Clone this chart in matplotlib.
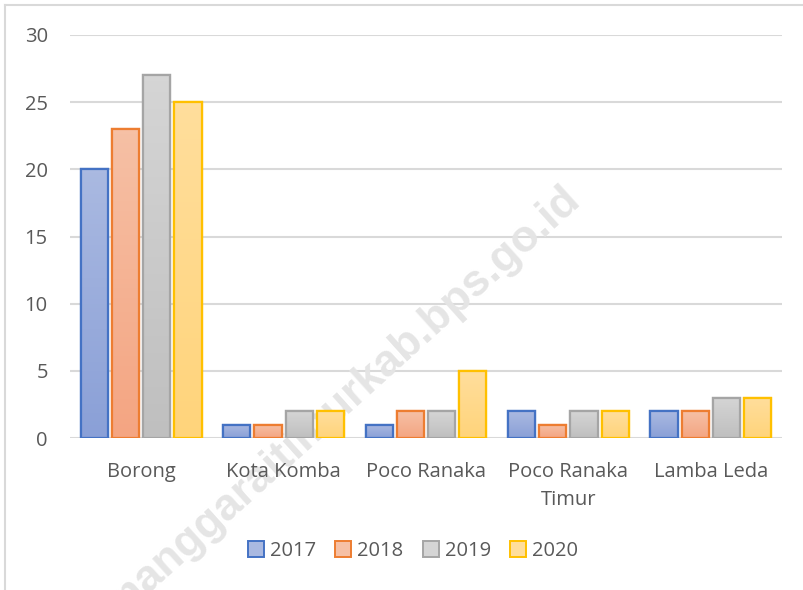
import numpy as np
import matplotlib.pyplot as plt
from matplotlib.colors import LinearSegmentedColormap
from matplotlib.lines import Line2D
from matplotlib.patches import Patch

# ---- Data ------------------------------------------------------------
CATEGORIES = ['Borong', 'Kota Komba', 'Poco Ranaka', 'Poco Ranaka\nTimur', 'Lamba Leda']
YEARS = ['2017', '2018', '2019', '2020']
V2017 = [20, 1, 1, 2, 2]
V2018 = [23, 1, 2, 1, 2]
V2019 = [27, 2, 2, 2, 3]
V2020 = [25, 2, 5, 2, 3]
YTICKS = [0, 5, 10, 15, 20, 25, 30]

# ---- Style -----------------------------------------------------------
# (top colour, bottom colour, edge colour) per series
STYLES = [
    ('#AAB9E1', '#8AA0D7', '#4472C4'),
    ('#F6C0A5', '#F4A582', '#ED7D31'),
    ('#D5D5D5', '#BFBFBF', '#A5A5A5'),
    ('#FFDE9C', '#FFD47B', '#FFC000'),
]
TEXT = '#595959'
GRID = '#D9D9D9'
FONT = 'Open Sans'
FS = 14.5

BAR_W = 0.19
STEP = 0.219

fig = plt.figure(figsize=(8.04, 5.90), dpi=100)
ax = fig.add_axes([70 / 804, 152 / 590, 712 / 804, 403 / 590])
ax.patch.set_visible(False)

x = np.arange(len(CATEGORIES))
series = [V2017, V2018, V2019, V2020]
for i, (vals, (top, bot, edge)) in enumerate(zip(series, STYLES)):
    offs = (i - 1.5) * STEP
    bars = ax.bar(x + offs, vals, BAR_W, color='white', edgecolor=edge,
                  linewidth=1.6, zorder=3)
    cmap = LinearSegmentedColormap.from_list(f's{i}', [bot, top])
    grad = np.linspace(0, 1, 64).reshape(-1, 1)
    for b in bars:
        bx, by = b.get_x(), b.get_y()
        im = ax.imshow(grad, cmap=cmap, origin='lower', aspect='auto',
                       extent=[bx, bx + b.get_width(), by, by + b.get_height()],
                       zorder=3.5)
        im.set_clip_path(b)
    for b in bars:
        # redraw outline above gradient
        ax.add_patch(plt.Rectangle((b.get_x(), b.get_y()), b.get_width(), b.get_height(),
                                   fill=False, edgecolor=edge, linewidth=1.6, zorder=3.8))

ax.set_xlim(-0.5, len(CATEGORIES) - 0.5)
ax.set_ylim(0, 30)
ax.set_yticks(YTICKS)
ax.set_xticks(x)
ax.set_xticklabels(CATEGORIES, linespacing=1.5)
for yv in YTICKS:
    ax.axhline(yv, color=GRID, linewidth=1.5, zorder=0.5)
for s in ax.spines.values():
    s.set_visible(False)
ax.xaxis.set_zorder(5)
ax.yaxis.set_zorder(5)
ax.tick_params(length=0, labelsize=FS, labelcolor=TEXT, labelfontfamily=FONT)
ax.tick_params(axis='y', pad=16)
ax.tick_params(axis='x', pad=17.5)

handles = [Patch(facecolor=top, edgecolor=edge, linewidth=1.4)
           for top, bot, edge in STYLES]
leg = fig.legend(handles, YEARS, loc='center', bbox_to_anchor=(413 / 804, 1 - 551 / 590),
                 ncol=4, frameon=False, handlelength=0.8, handleheight=0.8,
                 handletextpad=0.3, columnspacing=0.95,
                 prop={'family': FONT, 'size': FS})
leg.set_zorder(5)
for t in leg.get_texts():
    t.set_color(TEXT)

# chart border (top and left edges visible)
fig.add_artist(Line2D([5 / 804, 5 / 804], [0, 1 - 5 / 590], transform=fig.transFigure,
                      color=GRID, linewidth=1.5))
fig.add_artist(Line2D([5 / 804, 1], [1 - 5 / 590, 1 - 5 / 590], transform=fig.transFigure,
                      color=GRID, linewidth=1.5))

# watermark: above gridlines, behind bars and labels
ax.text(342 / 804, 1 - 402 / 590, 'manggaraitimurkab.bps.go.id', rotation=42,
        rotation_mode='anchor', ha='center', va='center', fontsize=32,
        fontweight='bold', family='Liberation Sans', color='#E5E5E5', zorder=1,
        transform=fig.transFigure, clip_on=False)

fig.savefig('out.png', dpi=100)
